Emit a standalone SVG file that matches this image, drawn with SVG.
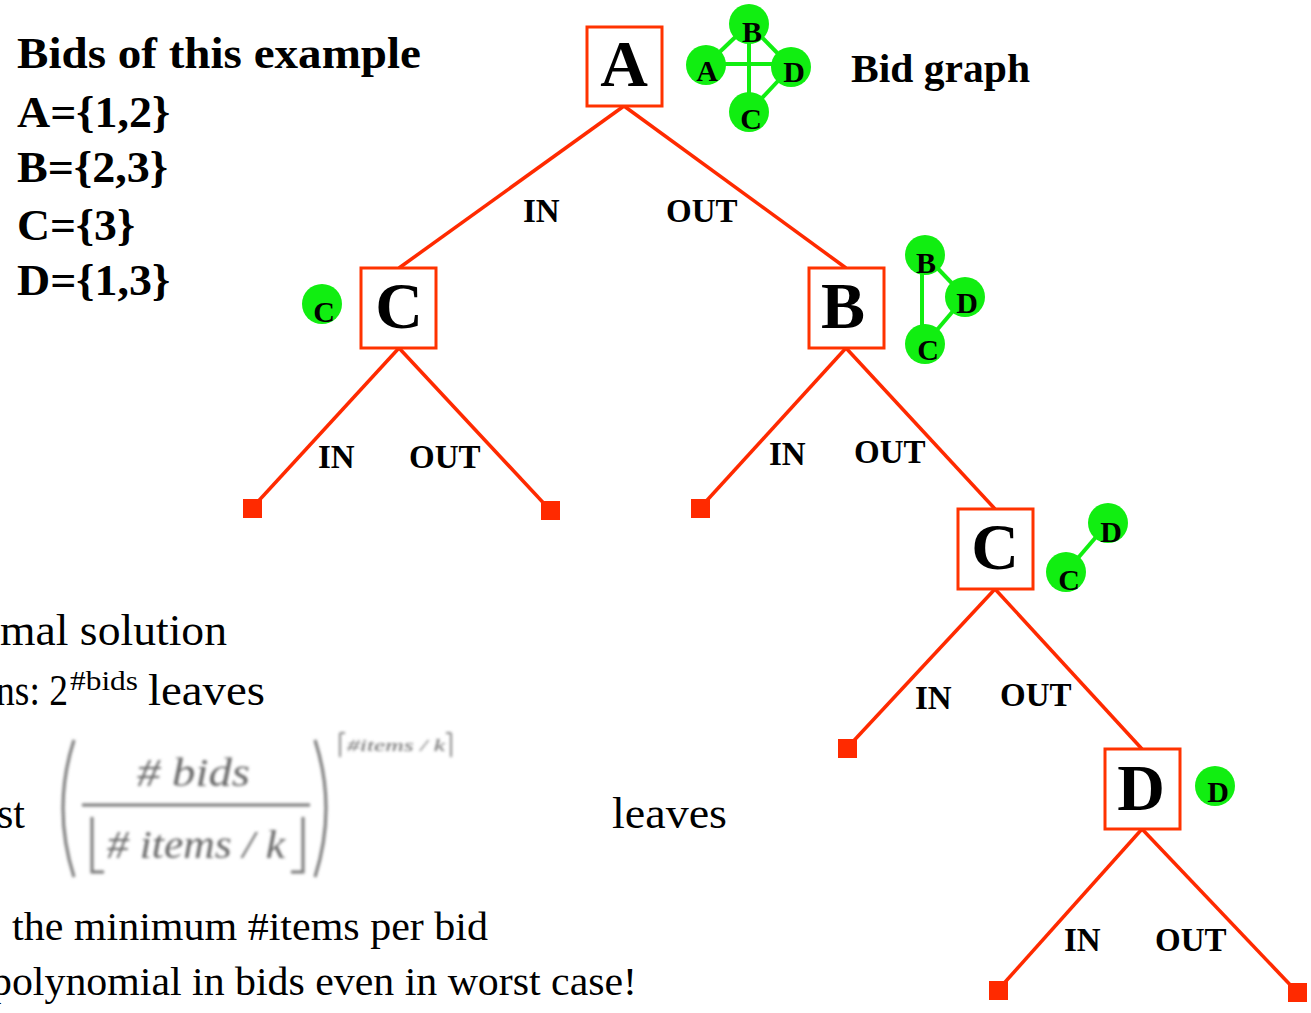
<svg xmlns="http://www.w3.org/2000/svg" width="1311" height="1013" viewBox="0 0 1311 1013">
<defs>
<style>
text{font-family:'Liberation Serif','Times New Roman',Times,serif}
.bold{font-weight:bold;fill:#000}
.reg{fill:#000}
.box{fill:#fff;stroke:#ff3300;stroke-width:3}
.big{font-weight:bold;font-size:66px;text-anchor:middle}
.edge{stroke:#ff2a00;stroke-width:3.5;fill:none}
.leaf{fill:#ff2a00}
.lbl{font-weight:bold;font-size:33px}
.gn{fill:#11ee11}
.ge{stroke:#11ee11;stroke-width:4}
.gl{font-weight:bold;font-size:30px;text-anchor:middle}
.fm{fill:#666}
</style>
<filter id="blur" x="-10%" y="-10%" width="120%" height="120%"><feGaussianBlur stdDeviation="1.8"/></filter>
</defs>
<rect width="1311" height="1013" fill="#fff"/>

<g id="bids-text">
<text class="bold" x="17" y="68" font-size="44" textLength="404" lengthAdjust="spacingAndGlyphs">Bids of this example</text>
<text class="bold" x="17" y="127" font-size="44" textLength="153" lengthAdjust="spacingAndGlyphs">A={1,2}</text>
<text class="bold" x="17" y="182" font-size="44" textLength="151" lengthAdjust="spacingAndGlyphs">B={2,3}</text>
<text class="bold" x="17" y="240" font-size="44" textLength="118" lengthAdjust="spacingAndGlyphs">C={3}</text>
<text class="bold" x="17" y="295" font-size="44" textLength="153" lengthAdjust="spacingAndGlyphs">D={1,3}</text>
</g>

<g id="bid-graph-label"><text class="bold" x="851" y="82" font-size="40" textLength="179" lengthAdjust="spacingAndGlyphs">Bid graph</text></g>

<g id="connectors">
<line class="edge" x1="624" y1="106" x2="399" y2="268"/>
<line class="edge" x1="624" y1="106" x2="846" y2="268"/>
<line class="edge" x1="399" y1="348" x2="252" y2="508"/>
<line class="edge" x1="399" y1="348" x2="550" y2="510"/>
<line class="edge" x1="846" y1="348" x2="700" y2="508"/>
<line class="edge" x1="846" y1="348" x2="995" y2="509"/>
<line class="edge" x1="995" y1="589" x2="847" y2="748"/>
<line class="edge" x1="995" y1="589" x2="1142" y2="749"/>
<line class="edge" x1="1142" y1="829" x2="998" y2="990"/>
<line class="edge" x1="1142" y1="829" x2="1297" y2="992"/>
<text class="lbl" x="523" y="222">IN</text><text class="lbl" x="666" y="222">OUT</text>
<text class="lbl" x="318" y="468">IN</text><text class="lbl" x="409" y="468">OUT</text>
<text class="lbl" x="769" y="465">IN</text><text class="lbl" x="854" y="463">OUT</text>
<text class="lbl" x="915" y="709">IN</text><text class="lbl" x="1000" y="706">OUT</text>
<text class="lbl" x="1064" y="951">IN</text><text class="lbl" x="1155" y="951">OUT</text>
</g>

<g id="leaves">
<rect class="leaf" x="243" y="499" width="19" height="19"/>
<rect class="leaf" x="541" y="501" width="19" height="19"/>
<rect class="leaf" x="691" y="499" width="19" height="19"/>
<rect class="leaf" x="838" y="739" width="19" height="19"/>
<rect class="leaf" x="989" y="981" width="19" height="19"/>
<rect class="leaf" x="1288" y="983" width="19" height="19"/>
</g>

<g id="node-A"><rect class="box" x="587" y="27" width="75" height="79"/><text class="big" x="624" y="86">A</text></g>
<g id="node-C1"><rect class="box" x="361" y="268" width="75" height="80"/><text class="big" x="399" y="328">C</text></g>
<g id="node-B"><rect class="box" x="809" y="268" width="75" height="80"/><text class="big" x="843" y="328">B</text></g>
<g id="node-C2"><rect class="box" x="958" y="509" width="75" height="80"/><text class="big" x="995" y="569">C</text></g>
<g id="node-D"><rect class="box" x="1105" y="749" width="75" height="80"/><text class="big" x="1141" y="810">D</text></g>

<g id="graph-full">
<line class="ge" x1="706" y1="65" x2="749" y2="24"/>
<line class="ge" x1="749" y1="24" x2="791" y2="67"/>
<line class="ge" x1="791" y1="67" x2="749" y2="112"/>
<line class="ge" x1="706" y1="64" x2="791" y2="64"/>
<line class="ge" x1="749" y1="24" x2="749" y2="112"/>
<circle class="gn" cx="749" cy="24" r="20"/>
<circle class="gn" cx="706" cy="65" r="20"/>
<circle class="gn" cx="791" cy="67" r="20"/>
<circle class="gn" cx="749" cy="112" r="20"/>
<text class="gl" x="752" y="42">B</text>
<text class="gl" x="707" y="81">A</text>
<text class="gl" x="794" y="82">D</text>
<text class="gl" x="751" y="129">C</text>
</g>

<g id="graph-BDC">
<line class="ge" x1="922" y1="255" x2="922" y2="344"/>
<line class="ge" x1="925" y1="255" x2="965" y2="297"/>
<line class="ge" x1="965" y1="297" x2="925" y2="344"/>
<circle class="gn" cx="925" cy="255" r="20"/>
<circle class="gn" cx="965" cy="297" r="20"/>
<circle class="gn" cx="925" cy="344" r="20"/>
<text class="gl" x="926" y="273">B</text>
<text class="gl" x="967" y="313">D</text>
<text class="gl" x="928" y="360">C</text>
</g>

<g id="graph-CD">
<line class="ge" x1="1066" y1="572" x2="1108" y2="523"/>
<circle class="gn" cx="1108" cy="523" r="20"/>
<circle class="gn" cx="1066" cy="572" r="20"/>
<text class="gl" x="1111" y="542">D</text>
<text class="gl" x="1069" y="590">C</text>
</g>

<g id="graph-D"><circle class="gn" cx="1215" cy="786" r="20"/><text class="gl" x="1218" y="802">D</text></g>
<g id="graph-C"><circle class="gn" cx="322" cy="304" r="20"/><text class="gl" x="324" y="322">C</text></g>

<g id="bottom-text">
<text class="reg" x="0" y="645" font-size="44" textLength="227" lengthAdjust="spacingAndGlyphs">mal solution</text>
<text class="reg" x="-4" y="705" font-size="44" textLength="72" lengthAdjust="spacingAndGlyphs">ns: 2</text>
<text class="reg" x="70" y="690" font-size="27" textLength="68" lengthAdjust="spacingAndGlyphs">#bids</text>
<text class="reg" x="148" y="705" font-size="44" textLength="117" lengthAdjust="spacingAndGlyphs">leaves</text>
<text class="reg" x="-3" y="828" font-size="44" textLength="28" lengthAdjust="spacingAndGlyphs">st</text>
<text class="reg" x="612" y="828" font-size="44" textLength="115" lengthAdjust="spacingAndGlyphs">leaves</text>
<text class="reg" x="12" y="940" font-size="40" textLength="476" lengthAdjust="spacingAndGlyphs">the minimum #items per bid</text>
<text class="reg" x="-9" y="995" font-size="40" textLength="646" lengthAdjust="spacingAndGlyphs">polynomial in bids even in worst case!</text>
</g>

<g id="formula" filter="url(#blur)">
<path d="M74 740 Q52 808 74 877" stroke="#777" stroke-width="3" fill="none"/>
<path d="M315 740 Q337 808 315 877" stroke="#777" stroke-width="3" fill="none"/>
<text class="fm" x="137" y="786" font-size="40" font-style="italic" textLength="113" lengthAdjust="spacingAndGlyphs"># bids</text>
<line x1="82" y1="805" x2="310" y2="805" stroke="#777" stroke-width="3"/>
<path d="M92 817 V872 H104 M303 817 V872 H291" stroke="#777" stroke-width="3" fill="none"/>
<text class="fm" x="107" y="858" font-size="40" font-style="italic" textLength="178" lengthAdjust="spacingAndGlyphs"># items / k</text>
<path d="M340 733 V757 M340 733 H345 M451 733 V757 M451 733 H446" stroke="#888" stroke-width="2" fill="none"/>
<text class="fm" x="347" y="751" font-size="17" font-style="italic" textLength="98" lengthAdjust="spacingAndGlyphs">#items / k</text>
</g>
</svg>
